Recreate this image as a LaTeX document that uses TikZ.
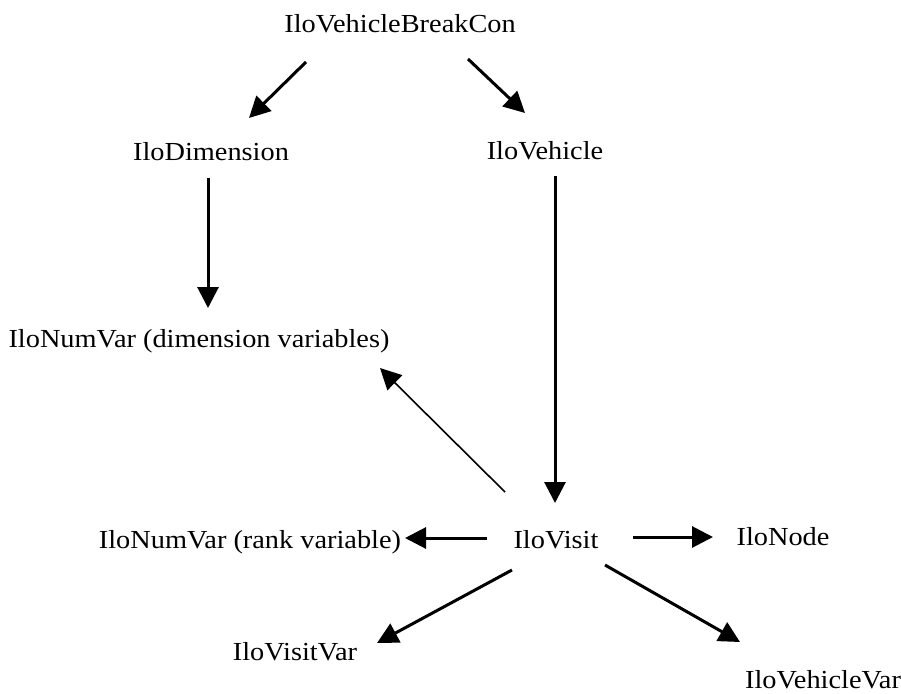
\documentclass[tikz,border=0pt]{standalone}
\usepackage{fontspec}
\setmainfont{Liberation Serif}[FakeStretch=1.09]
\usetikzlibrary{arrows.meta}

\tikzset{
 cls/.style={inner sep=0pt,text height=20pt,text depth=3pt,font=\fontsize{26}{30}\selectfont},
 dep/.style={black,-{Triangle[length=21pt,width=21pt]},line width=3pt},
 use/.style={black,-{Triangle[length=21pt,width=21pt]},line width=1.6pt},
}

\begin{document}
\begin{tikzpicture}[x=1pt,y=-1pt]
 \useasboundingbox (0,0) rectangle (901,693);
 \node[cls] (brk) at (400,24) {IloVehicleBreakCon};
 \node[cls] (dim) at (211,152) {IloDimension};
 \node[cls] (veh) at (545,151) {IloVehicle};
 \node[cls] (nvd) at (199,339) {IloNumVar (dimension variables)};
 \node[cls] (nvr) at (250,540) {IloNumVar (rank variable)};
 \node[cls] (vis) at (556,540) {IloVisit};
 \node[cls] (nod) at (783,537) {IloNode};
 \node[cls] (vvar) at (295,652) {IloVisitVar};
 \node[cls] (vhv) at (823,680) {IloVehicleVar};
 \draw[dep] ([shift={(-94,38)}]brk.center)--([shift={(38,-34)}]dim.center);
 \draw[dep] ([shift={(68,35)}]brk.center)--([shift={(-20,-38)}]veh.center);
 \draw[dep] ([shift={(-3,26)}]dim.center)--([shift={(9,-31)}]nvd.center);
 \draw[dep] ([shift={(10,25)}]veh.center)--([shift={(-1,-37)}]vis.center);
 \draw[use] ([shift={(-51,-48)}]vis.center)--([shift={(181,29)}]nvd.center);
 \draw[dep] ([shift={(-69,-2)}]vis.center)--([shift={(155,-2)}]nvr.center);
 \draw[dep] ([shift={(77,-3)}]vis.center)--([shift={(-70,0)}]nod.center);
 \draw[dep] ([shift={(-44,30)}]vis.center)--([shift={(82,-9)}]vvar.center);
 \draw[dep] ([shift={(49,25)}]vis.center)--([shift={(-83,-38)}]vhv.center);
\end{tikzpicture}
\end{document}
